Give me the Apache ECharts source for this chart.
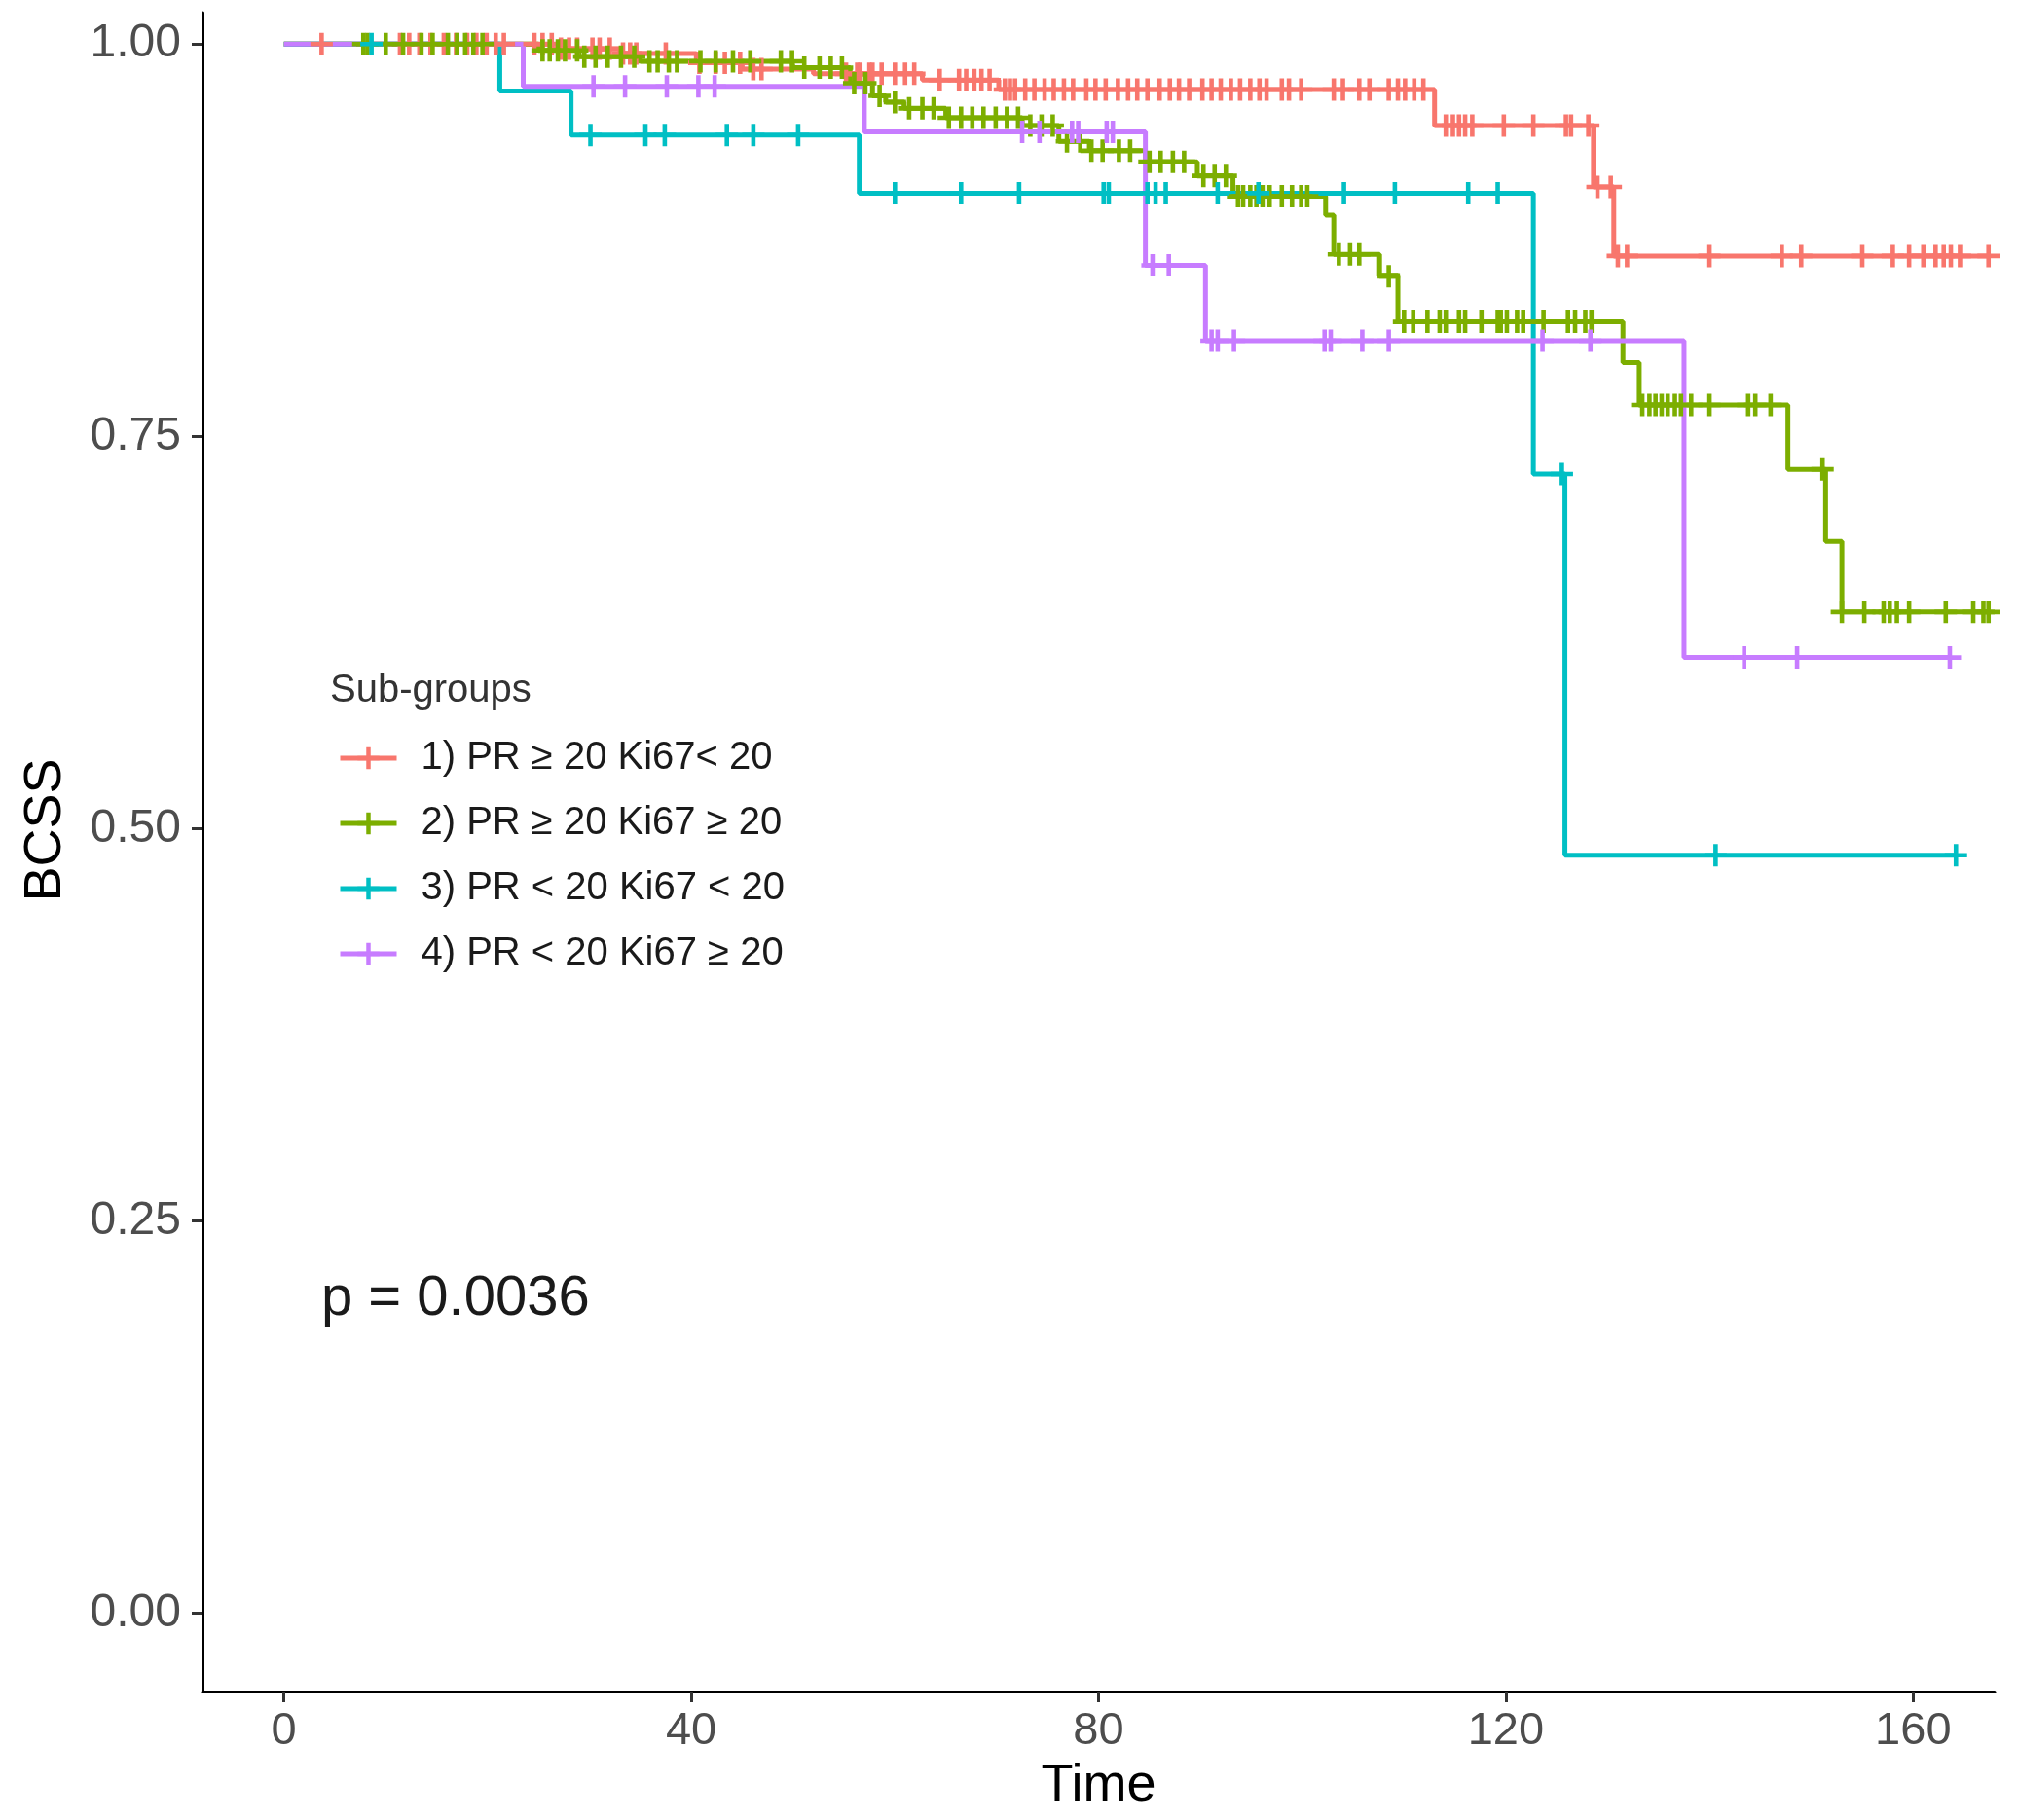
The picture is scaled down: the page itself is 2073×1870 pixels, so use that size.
<!DOCTYPE html>
<html>
<head>
<meta charset="utf-8">
<script src="https://cdn.jsdelivr.net/npm/echarts@6/dist/echarts.min.js"></script>
<style>
html,body{margin:0;padding:0;background:#fff;}
#chart{width:2073px;height:1870px;}
</style>
</head>
<body>
<div id="chart"></div>
<script>
// Kaplan-Meier curves
const groupNames = [
    "1) PR \u2265 20 Ki67< 20",
    "2) PR \u2265 20 Ki67 \u2265 20",
    "3) PR < 20 Ki67 < 20",
    "4) PR < 20 Ki67 \u2265 20"
];
const groupColors = ["#F8766D", "#7CAE00", "#00BFC4", "#C77CFF"];

// group 1
const g1EventTimes = [27, 33, 40.5, 45, 52, 62.7, 70.2, 113.0, 128.6, 130.6];
const g1Survival   = [0.997, 0.994, 0.988, 0.984, 0.981, 0.977, 0.971, 0.948, 0.909, 0.865];
const g1CensorTimes = [
    3.7, 11.4, 12.3, 13.3, 14.4, 15.7, 16.9, 18.0, 18.9, 19.9, 20.8, 21.6, 24.6, 25.4, 26.3,
    27.2, 28.0, 28.8, 30.3, 31.0, 32.0, 33.3, 34.0, 34.6, 37.5, 40.8, 42.4, 43.3, 44.8, 46.1,
    46.9, 55.2, 56.3, 57.5, 56.6, 57.8, 58.7, 60.0, 61.0, 61.9, 64.4, 66.3, 67.0, 67.8, 68.5,
    69.3, 70.8, 71.3, 71.8, 72.8, 73.7, 74.7, 75.6, 76.6, 77.5, 78.8, 79.7, 80.7, 81.9, 82.9,
    83.8, 84.8, 86.0, 87.0, 87.9, 88.9, 90.2, 91.1, 92.0, 93.0, 93.9, 94.9, 95.8, 96.5, 98.0,
    98.7, 99.9, 103.1, 104.0, 105.6, 106.6, 108.5, 109.4, 110.1, 111.0, 111.9,
    114.1, 114.8, 115.4, 116.0, 116.7, 119.8, 122.7, 125.9, 126.4, 128.1, 129.0, 130.3,
    131.0, 131.9, 140.0, 147.1, 149.0, 155.0, 158.0, 159.6, 161.0, 162.2, 163.0, 163.7, 164.6, 167.4
];

// group 2
const g2EventTimes = [25, 29, 35, 50, 55.6, 57.8, 59.1, 60.9, 65, 72.5, 76.1, 79.1, 84.6, 89.7,
    93.2, 102.3, 103.1, 107.6, 109.4, 131.5, 133.1, 147.7, 151.4, 153.0];
const g2Survival   = [0.996, 0.992, 0.989, 0.985, 0.975, 0.967, 0.963, 0.959, 0.953, 0.948, 0.938,
    0.932, 0.925, 0.916, 0.903, 0.891, 0.866, 0.852, 0.823, 0.797, 0.770, 0.729, 0.683, 0.638];
const g2CensorTimes = [
    7.8, 8.2, 10.0, 11.7, 13.5, 14.6, 16.1, 17.0, 17.8, 18.6, 19.5,
    25.4, 26.1, 26.9, 27.6, 28.8, 29.5, 30.6, 31.8, 33.1, 34.4, 35.9, 36.7, 37.8, 38.6, 40.9,
    42.4, 44.1, 45.8, 48.8, 49.9, 51.1, 52.6, 53.7, 54.8, 56.0, 57.1,
    58.5, 60.0, 61.4, 62.7, 63.8, 65.3, 66.5, 67.6, 68.7, 69.9, 71.0, 72.1, 73.3, 74.4, 75.5,
    76.9, 78.2, 79.3, 80.4, 82.0, 83.1, 85.0, 86.1, 87.3, 88.4, 90.3, 91.4, 92.5,
    93.7, 94.2, 94.9, 95.5, 96.1, 96.8, 98.0, 99.0, 99.9, 100.5,
    103.6, 104.7, 105.6, 108.5,
    110.0, 110.9, 112.3, 113.5, 114.1, 115.4, 116.0, 117.6, 119.2, 119.5, 120.1, 121.1, 121.7,
    123.7, 126.1, 126.8, 127.8, 128.4,
    133.4, 134.1, 134.7, 135.3, 135.9, 136.6, 137.2, 138.2, 140.0, 143.8, 144.5, 146.0, 151.1,
    153.0, 155.2, 157.1, 157.7, 158.4, 159.6, 163.2, 165.9, 166.9, 167.4
];

// group 3
const g3EventTimes = [21.2, 28.2, 56.5, 122.7, 125.8];
const g3Survival   = [0.970, 0.942, 0.905, 0.726, 0.483];
const g3CensorTimes = [
    8.6, 30.1, 35.5, 37.4, 43.5, 46.1, 50.5,
    60.0, 66.5, 72.2, 80.5, 81.0, 84.8, 85.6, 86.6, 91.7, 95.7, 104.1, 109.1, 116.3, 119.2,
    125.5, 140.6, 164.2
];

// group 4
const g4EventTimes = [23.5, 57.0, 84.6, 90.5, 137.5];
const g4Survival   = [0.973, 0.944, 0.859, 0.811, 0.609];
const g4CensorTimes = [
    30.4, 33.5, 37.6, 40.7, 42.3,
    72.5, 74.2, 77.4, 78.0, 80.8, 81.4,
    85.3, 86.9,
    91.1, 91.7, 93.3, 102.2, 102.8, 105.9, 108.5, 123.6, 128.3,
    143.4, 148.6, 163.6
];

const xTicks = [0, 40, 80, 120, 160];
const yTicks = [0, 0.25, 0.5, 0.75, 1];
const xTitle = "Time";
const yTitle = "BCSS";
const pValueText = "p = 0.0036";
const legendTitle = "Sub-groups";

const font = "Liberation Sans, Arial, Helvetica, sans-serif";
const plusPath = "path://M8,0h4v20h-4zM0,8h20v4h-20z";

// step curve points, censored points carry the '+' mark
function kmData(eventTimes, survival, censorTimes){
    const pts = [{value: [0, 1], symbol: "none"}];
    eventTimes.forEach((t, i) => pts.push({value: [t, survival[i]], symbol: "none"}));
    censorTimes.forEach(t => {
        let s = 1;
        eventTimes.forEach((e, i) => { if (e <= t) s = survival[i]; });
        pts.push({value: [t, s]});
    });
    pts.sort((a, b) => a.value[0] - b.value[0]);
    return pts;
}

const groups = [
    [g1EventTimes, g1Survival, g1CensorTimes],
    [g2EventTimes, g2Survival, g2CensorTimes],
    [g3EventTimes, g3Survival, g3CensorTimes],
    [g4EventTimes, g4Survival, g4CensorTimes]
];

const chart = echarts.init(document.getElementById("chart"));

chart.setOption({
    animation: false,
    backgroundColor: "#fff",
    grid: {left: 208, right: 24, top: 13, bottom: 132},
    legend: {
        data: groupNames,
        orient: "vertical",
        left: 342,
        top: 750,
        itemWidth: 58,
        itemHeight: 28,
        itemGap: 19,
        selectedMode: false,
        lineStyle: {width: 5},
        textStyle: {
            fontFamily: font,
            fontSize: 40,
            color: "#1a1a1a",
            lineHeight: 48,
            padding: [0, 0, 0, 20]
        }
    },
    xAxis: {
        type: "value",
        min: -8,
        max: 168,
        name: xTitle,
        nameLocation: "middle",
        nameGap: 70,
        nameTextStyle: {fontFamily: font, fontSize: 54, color: "#000"},
        axisLine: {onZero: false, lineStyle: {color: "#000", width: 3}},
        axisTick: {customValues: xTicks, length: 11, lineStyle: {color: "#333", width: 3}},
        axisLabel: {customValues: xTicks, fontFamily: font, fontSize: 47, color: "#4d4d4d", margin: 18},
        splitLine: {show: false}
    },
    yAxis: {
        type: "value",
        min: -0.05,
        max: 1.02,
        axisLine: {onZero: false, lineStyle: {color: "#000", width: 3}},
        axisTick: {customValues: yTicks, length: 11, lineStyle: {color: "#333", width: 3}},
        axisLabel: {
            customValues: yTicks,
            fontFamily: font,
            fontSize: 48,
            color: "#4d4d4d",
            margin: 22,
            formatter: v => v.toFixed(2)
        },
        splitLine: {show: false}
    },
    graphic: [
        {
            type: "text",
            x: 47,
            y: 853,
            rotation: Math.PI / 2,
            style: {text: yTitle, font: "54px " + font, fill: "#000", align: "center", verticalAlign: "middle"}
        },
        {
            type: "text",
            left: 339,
            top: 690,
            style: {text: legendTitle, font: "40px " + font, fill: "#333"}
        },
        {
            type: "text",
            left: 330,
            top: 1306,
            style: {text: pValueText, font: "58px " + font, fill: "#1a1a1a"}
        }
    ],
    series: groups.map((g, i) => ({
        name: groupNames[i],
        type: "line",
        step: "end",
        data: kmData(g[0], g[1], g[2]),
        symbol: plusPath,
        symbolSize: 23,
        showAllSymbol: true,
        color: groupColors[i],
        lineStyle: {width: 5, color: groupColors[i]},
        itemStyle: {color: groupColors[i]},
        emphasis: {disabled: true},
        silent: true
    }))
});

window.addEventListener("resize", () => chart.resize());
</script>
</body>
</html>
